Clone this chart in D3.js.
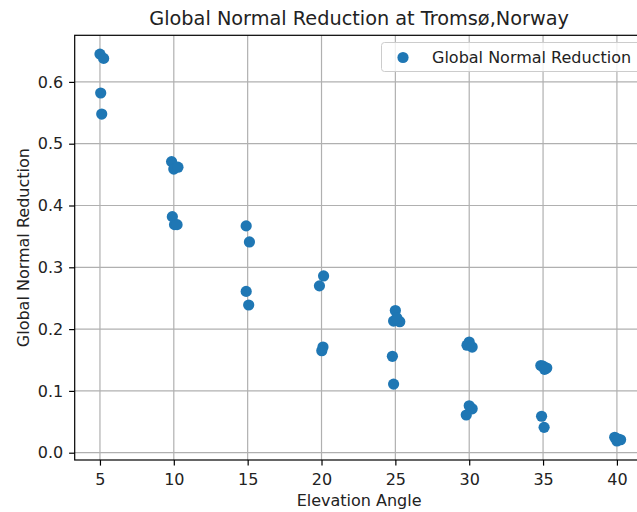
<!DOCTYPE html>
<html>
<head>
<meta charset="utf-8">
<script src="https://cdn.jsdelivr.net/npm/d3@7"></script>
<style>
  body { margin: 0; background: #fff; }
  svg { display: block; font-family: "DejaVu Sans", sans-serif; }
</style>
</head>
<body>
<svg id="chart" width="637" height="512"></svg>
<script>
const angles = [5.0, 5.25, 5.05, 5.12,
  9.85, 10.0, 10.28, 9.9, 10.05, 10.22,
  14.9, 15.12, 14.9, 15.07,
  20.14, 19.86, 20.1, 20.02,
  25.0, 24.88, 25.3, 25.1, 24.8, 24.88,
  29.85, 30.0, 30.2, 30.0, 30.2, 29.8,
  34.85, 35.0, 35.25, 35.1, 34.9, 35.07,
  39.85, 40.0, 40.25, 40.1];
const reductions = [0.645, 0.638, 0.582, 0.548,
  0.471, 0.459, 0.462, 0.382, 0.369, 0.369,
  0.367, 0.341, 0.261, 0.239,
  0.286, 0.270, 0.171, 0.165,
  0.230, 0.213, 0.212, 0.218, 0.156, 0.111,
  0.174, 0.179, 0.171, 0.076, 0.071, 0.061,
  0.141, 0.140, 0.137, 0.135, 0.059, 0.041,
  0.025, 0.019, 0.021, 0.022];
const xTicks = [5, 10, 15, 20, 25, 30, 35, 40];
const yTicks = [0.0, 0.1, 0.2, 0.3, 0.4, 0.5, 0.6];
const title = "Global Normal Reduction at Tromsø,Norway";
const xLabel = "Elevation Angle";
const yLabel = "Global Normal Reduction";
const seriesName = "Global Normal Reduction";

const color = "#1f77b4";
const FS = 16, FT = 19.3;
const L = 74.7, R = 643.5, T = 35.3, B = 460;
const svg = d3.select("#chart");
const x = d3.scaleLinear().domain([3.29, 41.8]).range([L, R]);
const y = d3.scaleLinear().domain([-0.0118, 0.6754]).range([B, T]);

svg.append("defs").append("clipPath").attr("id", "c")
  .append("rect").attr("x", L).attr("y", T).attr("width", R - L).attr("height", B - T);

// grid
const g = svg.append("g");
g.selectAll(".vx").data(xTicks).join("line")
  .attr("x1", d => x(d)).attr("x2", d => x(d)).attr("y1", T).attr("y2", B)
  .attr("stroke", "#b0b0b0").attr("stroke-width", 1.2);
g.selectAll(".hy").data(yTicks).join("line")
  .attr("y1", d => y(d)).attr("y2", d => y(d)).attr("x1", L).attr("x2", R)
  .attr("stroke", "#b0b0b0").attr("stroke-width", 1.2);

// points
svg.append("g").attr("clip-path", "url(#c)")
  .selectAll("circle").data(angles.map((a, i) => [a, reductions[i]])).join("circle")
  .attr("cx", d => x(d[0])).attr("cy", d => y(d[1])).attr("r", 5.6)
  .attr("fill", color);

// axes
const xAxis = d3.axisBottom(x).tickValues(xTicks).tickSize(5.6).tickPadding(8.5).tickFormat(d3.format("d"));
const yAxis = d3.axisLeft(y).tickValues(yTicks).tickSize(5.6).tickPadding(5.8).tickFormat(d3.format(".1f"));
const gx = svg.append("g").attr("transform", `translate(0,${B})`).call(xAxis);
const gy = svg.append("g").attr("transform", `translate(${L},0)`).call(yAxis);
[gx, gy].forEach(a => {
  a.select(".domain").remove();
  a.selectAll("line").attr("stroke", "#000").attr("stroke-width", 1.2);
  a.selectAll("text").attr("font-size", FS).attr("fill", "#222").attr("font-family", "DejaVu Sans");
});

// spines
svg.append("rect").attr("x", L).attr("y", T).attr("width", R - L).attr("height", B - T)
  .attr("fill", "none").attr("stroke", "#000").attr("stroke-width", 1.2);

// title & labels
svg.append("text").attr("x", (L + R) / 2).attr("y", 24.5).attr("text-anchor", "middle")
  .attr("font-size", FT).attr("fill", "#222").text(title);
svg.append("text").attr("x", (L + R) / 2).attr("y", 505.5).attr("text-anchor", "middle")
  .attr("font-size", FS).attr("fill", "#222").text(xLabel);
svg.append("text").attr("transform", `translate(28.5,${(T + B) / 2}) rotate(-90)`)
  .attr("text-anchor", "middle").attr("font-size", FS).attr("fill", "#222").text(yLabel);

// legend
const lg = svg.append("g");
lg.append("rect").attr("x", 381.5).attr("y", 42.5).attr("width", 262).attr("height", 29)
  .attr("rx", 3).attr("fill", "#fff").attr("fill-opacity", 0.8)
  .attr("stroke", "#cccccc").attr("stroke-width", 1);
lg.append("circle").attr("cx", 403).attr("cy", 57.5).attr("r", 5.6).attr("fill", color);
lg.append("text").attr("x", 432).attr("y", 63).attr("font-size", FS).attr("fill", "#222").text(seriesName);
</script>
</body>
</html>
